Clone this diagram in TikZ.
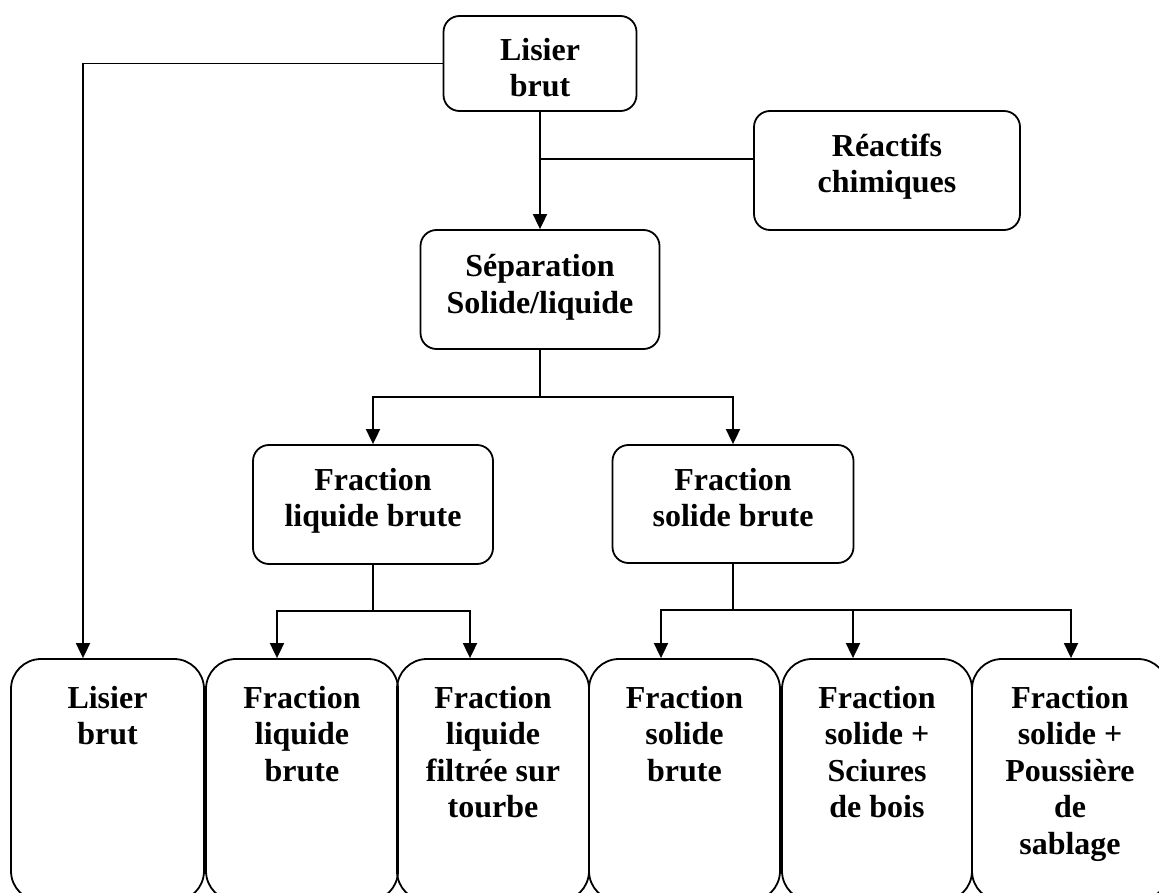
\documentclass[tikz,border=0pt]{standalone}
\usepackage{fontspec}
\setmainfont{Liberation Serif}
\usetikzlibrary{arrows.meta,calc}
\tikzset{
  box/.style={draw, line width=1.8pt, rounded corners=16pt, inner sep=0pt},
  bigbox/.style={draw, line width=1.8pt, rounded corners=30pt, inner sep=0pt},
  txt/.style={font=\bfseries\fontsize{32}{36.5}\selectfont, align=center, inner sep=0pt, anchor=north},
  conn/.style={line width=1.8pt},
  arr/.style={line width=1.8pt, -{Triangle[length=15pt,width=14pt]}}
}
\newcommand{\fl}{\rule{0pt}{24pt}}
\begin{document}
\begin{tikzpicture}[x=1pt,y=-1pt]
\useasboundingbox (0,0) rectangle (1159,893);
\clip (0,0) rectangle (1159,893);
% boxes
\node[box, minimum width=193pt, minimum height=95pt] (top) at (540,63.5) {};
\node[box, minimum width=266pt, minimum height=119pt] (rea) at (887,170.5) {};
\node[box, minimum width=239pt, minimum height=119pt] (sep) at (540,289.5) {};
\node[box, minimum width=240pt, minimum height=119pt] (liq) at (373,504.5) {};
\node[box, minimum width=241pt, minimum height=118pt] (sol) at (733,504) {};
\node[bigbox, minimum width=193pt, minimum height=242pt] (b1) at (107.5,780) {};
\node[bigbox, minimum width=192pt, minimum height=242pt] (b2) at (302,780) {};
\node[bigbox, minimum width=192pt, minimum height=242pt] (b3) at (493,780) {};
\node[bigbox, minimum width=191pt, minimum height=242pt] (b4) at (684.5,780) {};
\node[bigbox, minimum width=190pt, minimum height=242pt] (b5) at (877,780) {};
\node[bigbox, minimum width=196pt, minimum height=242pt] (b6) at (1070,780) {};
% texts
\node[txt] (ttop) at (540,36) {\fl Lisier\\brut};
\node[txt] (trea) at (887,132) {\fl Réactifs\\chimiques};
\node[txt, font=\bfseries\fontsize{32}{37}\selectfont] (tsep) at (540,252) {\fl Séparation\\Solide/liquide};
\node[txt] (tliq) at (373,466) {\fl Fraction\\liquide brute};
\node[txt] (tsol) at (733,466) {\fl Fraction\\solide brute};
\node[txt] (tb1) at (107.5,684) {\fl Lisier\\brut};
\node[txt] (tb2) at (302,684) {\fl Fraction\\liquide\\brute};
\node[txt] (tb3) at (493,684) {\fl Fraction\\liquide\\filtrée sur\\tourbe};
\node[txt] (tb4) at (684.5,684) {\fl Fraction\\solide\\brute};
\node[txt] (tb5) at (877,684) {\fl Fraction\\solide +\\Sciures\\de bois};
\node[txt] (tb6) at (1070,684) {\fl Fraction\\solide +\\Poussière\\de\\sablage};
% junctions
\coordinate (c1) at (83,0);
\coordinate (j1) at (540,159);
\coordinate (j2) at (540,397);
\coordinate (j3) at (373,611);
\coordinate (j4) at (733,610);
\coordinate (a2) at (277,0);
\coordinate (a3) at (470,0);
\coordinate (a4) at (661,0);
\coordinate (a5) at (853,0);
\coordinate (a6) at (1071,0);
% connectors
\draw[arr] (top.west) -| (c1 |- b1.north);
\draw[arr] (top.south) -- (sep.north);
\draw[conn] (rea.west |- j1) -- (j1);
\draw[conn] (sep.south) -- (j2);
\draw[arr] (j2) -| (liq.north);
\draw[arr] (j2) -| (sol.north);
\draw[conn] (liq.south) -- (j3);
\draw[arr] (j3) -| (a2 |- b2.north);
\draw[arr] (j3) -| (a3 |- b3.north);
\draw[conn] (sol.south) -- (j4);
\draw[arr] (j4) -| (a4 |- b4.north);
\draw[arr] (j4) -| (a5 |- b5.north);
\draw[arr] (j4) -| (a6 |- b6.north);
\end{tikzpicture}
\end{document}
